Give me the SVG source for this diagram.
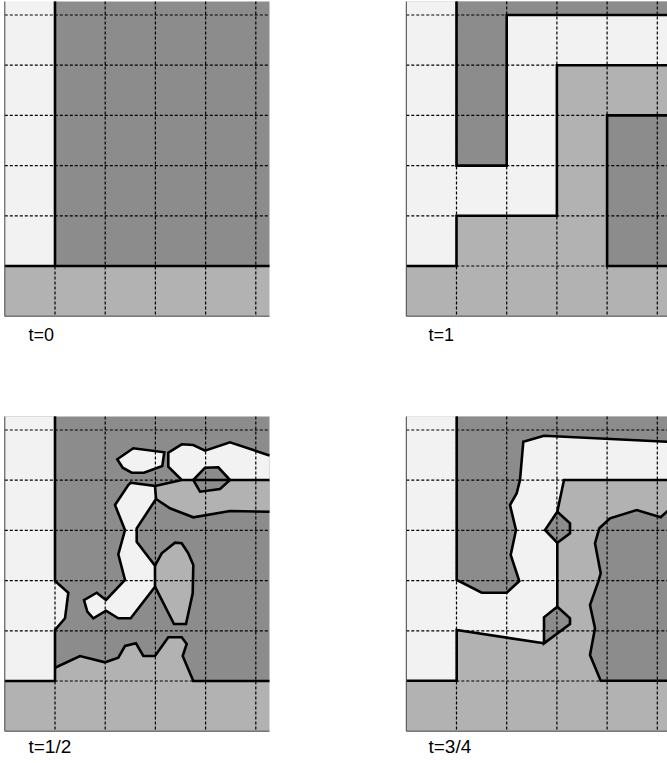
<svg xmlns="http://www.w3.org/2000/svg" width="667" height="763" viewBox="0 0 667 763">
<style>
.L{fill:#f2f2f2}
.M{fill:#b2b2b2}
.D{fill:#8c8c8c}
.grid{fill:none;stroke:#000;stroke-width:1.2;stroke-dasharray:3 2}
.edge{fill:none;stroke:#000;stroke-width:2.6;stroke-linejoin:miter}
.frame{fill:none;stroke:#444;stroke-width:1}
.lbl{font-family:"Liberation Sans",Arial,sans-serif;font-size:18px;fill:#000}
.lbl2{font-family:"Liberation Sans",Arial,sans-serif;font-size:19px;fill:#000}
</style>
<rect width="667" height="763" fill="#fff"/>

<g id="panel-t0">
<rect class="D" x="55" y="1.5" width="214.5" height="264.5"/>
<rect class="L" x="4.8" y="1.5" width="50.2" height="264.5"/>
<rect class="M" x="4.8" y="266" width="264.7" height="50.2"/>
<path class="grid" d="M4.8,15H269.5M4.8,65.2H269.5M4.8,115.4H269.5M4.8,165.6H269.5M4.8,215.8H269.5M4.8,266H269.5M55,1.5V316.2M105.2,1.5V316.2M155.4,1.5V316.2M205.6,1.5V316.2M255.8,1.5V316.2"/>
<path class="edge" d="M55,1.5V266M4.8,266H269.5"/>
<path class="frame" d="M4.8,1.5V316.2H269.5"/>
<text class="lbl" x="28.5" y="341">t=0</text>
</g>

<g id="panel-t1">
<rect class="M" x="406.3" y="1.5" width="264.7" height="314.7"/>
<path class="L" d="M406.3,1.5H456.5V165.6H506.7V15H671V65.2H556.9V215.8H456.5V266H406.3Z"/>
<path class="D" d="M456.5,1.5H671V15H506.7V165.6H456.5Z"/>
<rect class="D" x="607.1" y="115.4" width="63.9" height="150.6"/>
<path class="grid" d="M406.3,15H671M406.3,65.2H671M406.3,115.4H671M406.3,165.6H671M406.3,215.8H671M406.3,266H671M456.5,1.5V316.2M506.7,1.5V316.2M556.9,1.5V316.2M607.1,1.5V316.2M657.3,1.5V316.2"/>
<path class="edge" d="M456.5,1.5V165.6H506.7V15H671M671,65.2H556.9V215.8H456.5V266H406.3M671,115.4H607.1V266H671"/>
<path class="frame" d="M406.3,1.5V316.2H671"/>
<text class="lbl" x="428.5" y="341">t=1</text>
</g>

<g id="panel-t12">
<rect class="D" x="4.8" y="416.5" width="264.7" height="264.5"/>
<path class="L" d="M4.8,416.5H55V581L68.3,592.7L65,618.3L55,630V681H4.8Z"/>
<path class="M" d="M55,667.7L80,656L105,662.3L118.3,657.7L125,646L136,643.3L143.3,656L155,656L168.3,637.3L181.7,637.3L186.7,644L182.7,656L193.3,681H269.5V731.2H4.8V681H55Z"/>
<path class="L" d="M117.3,459.3L133.3,448.3L164.3,452.3L162.3,466L144,472.7L131.7,472.7L122.7,467.7Z"/>
<path class="L" d="M168.3,452.7L181.7,444.3L193.3,445L205,450.7L230,442.3L269.5,455.5V480H181.7L168.3,466.7Z"/>
<path class="M" d="M155,486L181.7,480H269.5V511.7L230,511L193.3,517.3L170,508.3L156,499Z"/>
<path class="D" d="M193.3,480L205,467.7L218.3,467.3L230,480L220,489L200,491.7Z"/>
<path class="L" d="M130.7,482.7L155,486L156,499L136.7,528.3L136.7,541.7L155,565.7L155,586.7L130.7,618.3L118.3,618.3L106,610.7L93.3,618.3L87.3,611.7L84,600L96.7,592.7L106,600L125,580L118.3,554.3L125,530L115,505L128.3,485Z"/>
<path class="M" d="M155,565.7L161.7,553.3L175,542.7L181.7,543.3L188.3,553.3L193.3,565L192.7,593.3L186,624L174,624L155,586.7Z"/>
<path class="grid" d="M4.8,430H269.5M4.8,480.2H269.5M4.8,530.4H269.5M4.8,580.6H269.5M4.8,630.8H269.5M4.8,681H269.5M55,416.5V731.2M105.2,416.5V731.2M155.4,416.5V731.2M205.6,416.5V731.2M255.8,416.5V731.2"/>
<path class="edge" d="M55,416.5V581L68.3,592.7L65,618.3L55,630V681H4.8"/>
<path class="edge" d="M55,667.7L80,656L105,662.3L118.3,657.7L125,646L136,643.3L143.3,656L155,656L168.3,637.3L181.7,637.3L186.7,644L182.7,656L193.3,681H269.5"/>
<path class="edge" d="M117.3,459.3L133.3,448.3L164.3,452.3L162.3,466L144,472.7L131.7,472.7L122.7,467.7Z"/>
<path class="edge" d="M269.5,455.5L230,442.3L205,450.7L193.3,445L181.7,444.3L168.3,452.7L168.3,466.7L181.7,480H269.5M181.7,480L155,486"/>
<path class="edge" d="M269.5,511.7L230,511L193.3,517.3L170,508.3L156,499"/>
<path class="edge" d="M193.3,480L205,467.7L218.3,467.3L230,480L220,489L200,491.7Z"/>
<path class="edge" d="M130.7,482.7L155,486L156,499L136.7,528.3L136.7,541.7L155,565.7L155,586.7L130.7,618.3L118.3,618.3L106,610.7L93.3,618.3L87.3,611.7L84,600L96.7,592.7L106,600L125,580L118.3,554.3L125,530L115,505L128.3,485Z"/>
<path class="edge" d="M155,565.7L161.7,553.3L175,542.7L181.7,543.3L188.3,553.3L193.3,565L192.7,593.3L186,624L174,624L155,586.7"/>
<path class="frame" d="M4.8,416.5V731.2H269.5"/>
<text class="lbl2" x="28.5" y="753">t=1/2</text>
</g>

<g id="panel-t34">
<rect class="M" x="406.3" y="416.5" width="264.7" height="314.7"/>
<path class="L" d="M406.3,416.5H671V480H564L557.3,511.7V606.7L544,617.3V643.3L456.7,630V680.7H406.3Z"/>
<path class="D" d="M456.7,416.5H671V442L544,435.7L523.3,441.7L520,480L516.7,493.3L510,505L516,530L510.7,555L519.3,581L506.7,592.7L481.7,592.7L456.7,580Z"/>
<path class="D" d="M610,518.3L636.7,510L660.7,517.3L671,508V680.7H600.7L590,655L595,628.3L590,605L598.3,581.7L600.7,573.3L595,543.3L599.3,528.3Z"/>
<path class="D" d="M557.3,511.7L570,523.3L570,533.3L557.3,542.7L545,530Z"/>
<path class="D" d="M557.3,606.7L570,618.3L570,624L544,643.3L544,617.3Z"/>
<path class="grid" d="M406.3,430H671M406.3,480.2H671M406.3,530.4H671M406.3,580.6H671M406.3,630.8H671M406.3,681H671M456.5,416.5V731.2M506.7,416.5V731.2M556.9,416.5V731.2M607.1,416.5V731.2M657.3,416.5V731.2"/>
<path class="edge" d="M456.7,416.5V580L481.7,592.7L506.7,592.7L519.3,581L510.7,555L516,530L510,505L516.7,493.3L520,480L523.3,441.7L544,435.7L671,442"/>
<path class="edge" d="M406.3,680.7H456.7V630L544,643.3"/>
<path class="edge" d="M671,480H564L557.3,511.7"/>
<path class="edge" d="M557.3,511.7L570,523.3L570,533.3L557.3,542.7L545,530Z"/>
<path class="edge" d="M557.3,542.7V606.7"/>
<path class="edge" d="M557.3,606.7L570,618.3L570,624L544,643.3L544,617.3Z"/>
<path class="edge" d="M671,508L660.7,517.3L636.7,510L610,518.3L599.3,528.3L595,543.3L600.7,573.3L598.3,581.7L590,605L595,628.3L590,655L600.7,680.7H671"/>
<path class="frame" d="M406.3,416.5V731.2H671"/>
<text class="lbl2" x="428.5" y="753">t=3/4</text>
</g>
</svg>
